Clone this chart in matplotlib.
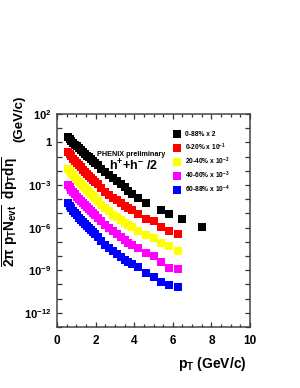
import matplotlib
matplotlib.use('Agg')
import matplotlib.pyplot as plt
import numpy as np
from matplotlib.ticker import FixedLocator, FixedFormatter, MultipleLocator

plt.rcParams['font.family'] = ['Liberation Sans', 'DejaVu Sans']
plt.rcParams['font.weight'] = 'bold'
plt.rcParams['mathtext.fontset'] = 'custom'
plt.rcParams['mathtext.rm'] = 'Liberation Sans:bold'
plt.rcParams['mathtext.it'] = 'Liberation Sans:bold'
plt.rcParams['mathtext.bf'] = 'Liberation Sans:bold'
plt.rcParams['mathtext.sf'] = 'Liberation Sans:bold'

# ---------------- data (log10 of plotted yield, scale factors already applied) -------------
pt_common = [0.55, 0.65, 0.75, 0.85, 0.95, 1.05, 1.15, 1.25, 1.35, 1.45, 1.55, 1.65, 1.75,
             1.85, 1.95, 2.1, 2.3, 2.5, 2.7, 2.9, 3.1, 3.3, 3.5, 3.7, 3.9, 4.2]
pt_high = [4.6, 5.0, 5.4, 5.8, 6.25]
pt_high_mb = [4.6, 5.4, 5.8, 6.5, 7.5]

log_mb = [0.39, 0.26, 0.12, -0.01, -0.15, -0.28, -0.41, -0.54, -0.67, -0.80, -0.93, -1.06, -1.19,
          -1.31, -1.43, -1.61, -1.84, -2.07, -2.29, -2.51, -2.73, -2.95, -3.17, -3.39, -3.61, -3.92]
log_mb_high = [-4.25, -4.76, -5.04, -5.42, -5.98]

log_c0020 = [-0.66, -0.82, -0.98, -1.14, -1.30, -1.46, -1.61, -1.76, -1.91, -2.06, -2.20, -2.34, -2.48,
             -2.62, -2.76, -2.96, -3.21, -3.46, -3.68, -3.90, -4.09, -4.28, -4.47, -4.63, -4.79, -5.03]
log_c0020_high = [-5.42, -5.54, -5.98, -6.24, -6.45]

log_c2040 = [-1.84, -2.00, -2.16, -2.32, -2.48, -2.64, -2.79, -2.94, -3.09, -3.24, -3.38, -3.52, -3.66,
             -3.80, -3.94, -4.14, -4.39, -4.64, -4.86, -5.08, -5.27, -5.46, -5.65, -5.81, -5.97, -6.25]
log_c2040_high = [-6.55, -6.71, -7.11, -7.28, -7.65]

log_c4060 = [-3.01, -3.17, -3.33, -3.49, -3.65, -3.81, -3.96, -4.11, -4.26, -4.41, -4.55, -4.69, -4.83,
             -4.97, -5.11, -5.31, -5.56, -5.81, -6.03, -6.27, -6.48, -6.69, -6.88, -7.05, -7.20, -7.44]
log_c4060_high = [-7.78, -8.00, -8.44, -8.86, -8.94]

log_c6088 = [-4.30, -4.47, -4.64, -4.80, -4.97, -5.13, -5.29, -5.45, -5.60, -5.76, -5.91, -6.05, -6.20,
             -6.34, -6.48, -6.69, -6.95, -7.20, -7.41, -7.62, -7.84, -8.05, -8.25, -8.43, -8.59, -8.78]
log_c6088_high = [-9.22, -9.46, -9.85, -10.04, -10.16]

labels = ['0-88% x 2', '0-20% x 10$^{-1}$', '20-40% x 10$^{-2}$',
          '40-60% x 10$^{-3}$', '60-88% x 10$^{-4}$']
colors = ['#000000', '#ff0000', '#ffff00', '#ff00ff', '#0000ff']

ytick_exp = [2, 0, -3, -6, -9, -12]
ytick_text = ['$10^{2}$', '1', '$10^{-3}$', '$10^{-6}$', '$10^{-9}$', '$10^{-12}$']
xticks = [0, 2, 4, 6, 8, 10]

# ---------------- figure ----------------
W, H = 300, 388
fig = plt.figure(figsize=(W / 100, H / 100), dpi=100)
ax = fig.add_axes([57 / W, 1 - 327 / H, (250 - 57) / W, (327 - 114) / H])

series = [
    (pt_common + pt_high_mb, log_mb + log_mb_high),
    (pt_common + pt_high, log_c0020 + log_c0020_high),
    (pt_common + pt_high, log_c2040 + log_c2040_high),
    (pt_common + pt_high, log_c4060 + log_c4060_high),
    (pt_common + pt_high, log_c6088 + log_c6088_high),
]
for (x, ly), c, lab in zip(series, colors, labels):
    ax.plot(x, 10.0 ** np.array(ly), ls='none', marker='s', ms=5.5, mew=0,
            color=c, label=lab)

ax.set_yscale('log')
ax.set_xlim(0, 10)
ax.set_ylim(1e-13, 1e2)

# ticks
ax.yaxis.set_major_locator(FixedLocator([10.0 ** k for k in range(-13, 3)]))
lab_map = dict(zip(ytick_exp, ytick_text))
ax.yaxis.set_major_formatter(FixedFormatter([lab_map.get(k, '') for k in range(-13, 3)]))
ax.yaxis.set_minor_locator(FixedLocator([]))
ax.xaxis.set_major_locator(FixedLocator(xticks))
ax.xaxis.set_major_formatter(FixedFormatter([str(v) for v in xticks]))
ax.xaxis.set_minor_locator(MultipleLocator(0.5))

ax.tick_params(axis='both', which='both', direction='in', top=True, right=True,
               colors='#333333', labelcolor='black', width=0.9)
ax.tick_params(axis='y', which='major', length=3.8, labelsize=8, pad=4)
ax.tick_params(axis='x', which='major', length=3.6, labelsize=8.5, pad=5.5)
ax.tick_params(axis='x', which='minor', length=2.0)
for s in ax.spines.values():
    s.set_color('#444444')
    s.set_linewidth(1.1)

# legend
leg = ax.legend(loc='upper left', bbox_to_anchor=(174 / W, 1 - 131.5 / H),
                bbox_transform=fig.transFigure, frameon=False, fontsize=4.8,
                handlelength=1.0, handletextpad=0.7, labelspacing=0.42,
                borderpad=0, borderaxespad=0, markerscale=1.0)

# annotations
fig.text(97 / W, 1 - 155.5 / H, 'PHENIX preliminary', fontsize=5.2, fontweight='bold',
         va='baseline', ha='left')
fig.text(109 / W, 1 - 171 / H, 'h$^{+}$+h$^{-}$ /2', fontsize=9, fontweight='bold',
         va='baseline', ha='left')

fig.text(247 / W, 1 - 368 / H, 'p$_{T}$ (GeV/c)', fontsize=10, fontweight='bold',
         va='baseline', ha='right')

fig.text(3 / W, 1 - 212 / H,
         r'$\frac{1}{2\pi\ p_{T} N_{evt}}\ \frac{d^{2}N}{dp_{T} d\eta}$',
         fontsize=14, rotation=90, ha='center', va='center')
fig.text(19 / W, 1 - 119 / H, '(GeV/c)', fontsize=9.5, fontweight='bold',
         rotation=90, ha='center', va='center')

fig.savefig('out.png', dpi=100)
